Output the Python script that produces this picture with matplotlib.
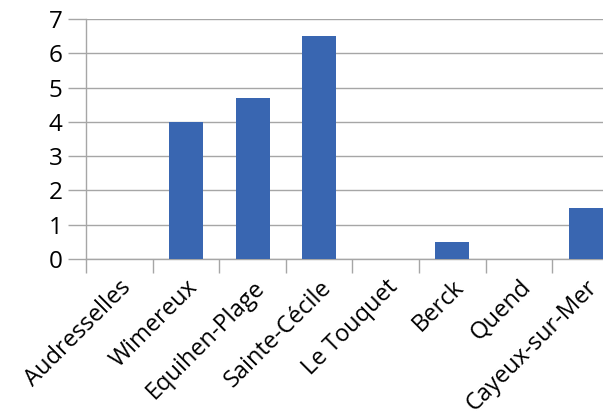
import matplotlib
matplotlib.use('Agg')
import matplotlib.pyplot as plt

communes = ['Audresselles', 'Wimereux', 'Equihen-Plage', 'Sainte-Cécile',
            'Le Touquet', 'Berck', 'Quend', 'Cayeux-sur-Mer']
valeurs = [0, 4, 4.7, 6.5, 0, 0.5, 0, 1.5]
yticks = [0, 1, 2, 3, 4, 5, 6, 7]

plt.rcParams['font.family'] = ['Open Sans', 'DejaVu Sans']

fig = plt.figure(figsize=(6.03, 4.17), dpi=100)
ax = fig.add_axes([86 / 603, 158 / 417, 533 / 603, 240 / 417])

x = list(range(len(communes)))
ax.bar(x, valeurs, width=0.51, color='#3966b1', zorder=3)

ax.set_xlim(-0.5, len(communes) - 0.5)
ax.set_ylim(0, 7)
ax.set_yticks(yticks)
ax.set_yticklabels([str(v) for v in yticks], fontsize=17.5)

# ticks between categories
ax.set_xticks([i - 0.5 for i in range(len(communes) + 1)])
ax.set_xticklabels([])
ax.set_xticks(x, minor=True)
ax.set_xticklabels(communes, minor=True, rotation=45, ha='right',
                   rotation_mode='anchor', fontsize=17)
ax.tick_params(axis='x', which='minor', length=0, pad=12)
ax.tick_params(axis='x', which='major', length=10, width=1, color='#a6a6a6')
ax.tick_params(axis='y', length=13, width=1, color='#a6a6a6', pad=4)

ax.grid(axis='y', color='#a6a6a6', linewidth=1, zorder=0)
for s in ['top', 'right']:
    ax.spines[s].set_visible(False)
for s in ['left', 'bottom']:
    ax.spines[s].set_color('#a6a6a6')
    ax.spines[s].set_linewidth(1)

fig.savefig('out.png', dpi=100)
